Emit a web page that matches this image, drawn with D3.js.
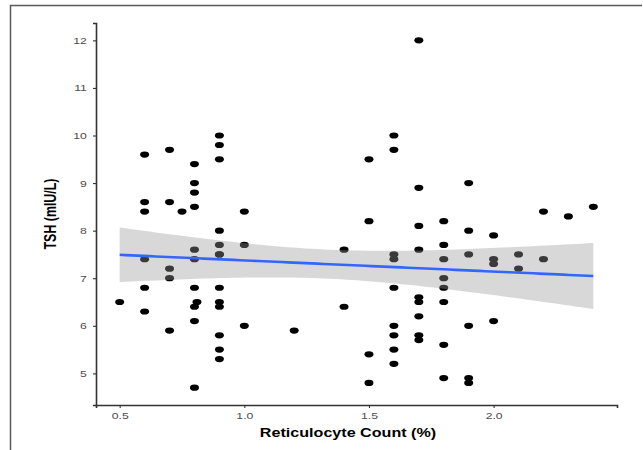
<!DOCTYPE html>
<html>
<head>
<meta charset="utf-8">
<script src="https://cdn.jsdelivr.net/npm/d3@7"></script>
<style>
  html, body { margin: 0; padding: 0; background: #fff; }
  svg { display: block; }
</style>
</head>
<body>
<svg id="chart" width="643" height="450"></svg>
<script>
// Reticulocyte count (%) and matching TSH (mIU/L), one entry per subject
const reticulocyte = [
  0.5,
  0.6, 0.6, 0.6, 0.6, 0.6, 0.6,
  0.7, 0.7, 0.7, 0.7, 0.7,
  0.75,
  0.8, 0.8, 0.8, 0.8, 0.8, 0.8, 0.8, 0.81, 0.8, 0.8, 0.8,
  0.9, 0.9, 0.9, 0.9, 0.9, 0.9, 0.9, 0.9, 0.9, 0.9, 0.9, 0.9, 0.9,
  1.0, 1.0, 1.0,
  1.2,
  1.4, 1.4,
  1.5, 1.5, 1.5, 1.5,
  1.6, 1.6, 1.6, 1.6, 1.6, 1.6, 1.6, 1.6, 1.6,
  1.7, 1.7, 1.7, 1.7, 1.7, 1.7, 1.7, 1.7, 1.7,
  1.8, 1.8, 1.8, 1.8, 1.8, 1.8, 1.8, 1.8,
  1.9, 1.9, 1.9, 1.9, 1.9, 1.9,
  2.0, 2.0, 2.0, 2.0,
  2.1, 2.1,
  2.2, 2.2,
  2.3,
  2.4
];
const tsh = [
  6.5,
  9.6, 8.6, 8.4, 7.4, 6.8, 6.3,
  9.7, 8.6, 7.2, 7.0, 5.9,
  8.4,
  9.4, 9.0, 8.8, 8.5, 7.6, 7.4, 6.8, 6.5, 6.4, 6.1, 4.7,
  10.0, 9.8, 9.5, 8.0, 7.7, 7.5, 7.5, 6.8, 6.5, 6.4, 5.8, 5.5, 5.3,
  8.4, 7.7, 6.0,
  5.9,
  7.6, 6.4,
  9.5, 8.2, 5.4, 4.8,
  10.0, 9.7, 7.5, 7.4, 6.8, 6.0, 5.8, 5.5, 5.2,
  12.0, 8.9, 8.1, 7.6, 6.6, 6.5, 6.2, 5.8, 5.7,
  8.2, 7.7, 7.4, 7.0, 6.8, 6.5, 5.6, 4.9,
  9.0, 8.0, 7.5, 6.0, 4.9, 4.8,
  7.9, 7.4, 7.3, 6.1,
  7.5, 7.2,
  8.4, 7.4,
  8.3,
  8.5
];
const xTicks = [0.5, 1.0, 1.5, 2.0];
const yTicks = [5, 6, 7, 8, 9, 10, 11, 12];
const xTitle = "Reticulocyte Count (%)";
const yTitle = "TSH (mIU/L)";

const points = reticulocyte.map((x, i) => ({ x, y: tsh[i] }));

const svg = d3.select("#chart");
const margin = { left: 96, right: 26, top: 23, bottom: 45 };
const W = 643, H = 450;
const FONT = "'Liberation Sans', Arial, sans-serif";
const STRETCH = 1.3; // the whole figure is drawn wider than tall

// Outer frame (top and left edges)
svg.append("path")
  .attr("d", `M10.5,450 L10.5,5.5 L642,5.5`)
  .attr("fill", "none")
  .attr("stroke", "#5a5a5a")
  .attr("stroke-width", 1.5);

// Scales with 5% padding around the data range
const xExt = d3.extent(reticulocyte), yExt = d3.extent(tsh);
const xPad = (xExt[1] - xExt[0]) * 0.05, yPad = (yExt[1] - yExt[0]) * 0.05;
const x = d3.scaleLinear().domain([xExt[0] - xPad, xExt[1] + xPad])
  .range([margin.left, W - margin.right]);
const y = d3.scaleLinear().domain([yExt[0] - yPad, yExt[1] + yPad])
  .range([H - margin.bottom, margin.top]);

// Points
svg.append("g").selectAll("ellipse").data(points).join("ellipse")
  .attr("cx", d => x(d.x))
  .attr("cy", d => y(d.y))
  .attr("rx", 4.5)
  .attr("ry", 3.1)
  .attr("fill", "#000");

// Linear fit with 95% confidence band
const n = points.length;
const mx = d3.mean(reticulocyte), my = d3.mean(tsh);
const sxx = d3.sum(reticulocyte, v => (v - mx) ** 2);
const sxy = d3.sum(points, d => (d.x - mx) * (d.y - my));
const slope = sxy / sxx, intercept = my - slope * mx;
const rss = d3.sum(points, d => (d.y - (intercept + slope * d.x)) ** 2);
const s = Math.sqrt(rss / (n - 2));
const df = n - 2, z = 1.959964;
const tq = z + (z ** 3 + z) / (4 * df) + (5 * z ** 5 + 16 * z ** 3 + 3 * z) / (96 * df * df);
const grid = d3.range(0, 80).map(i => xExt[0] + (xExt[1] - xExt[0]) * i / 79);
const fit = grid.map(gx => {
  const fy = intercept + slope * gx;
  const se = s * Math.sqrt(1 / n + (gx - mx) ** 2 / sxx);
  return { x: gx, y: fy, lo: fy - tq * se, hi: fy + tq * se };
});

svg.append("path").datum(fit)
  .attr("d", d3.area().x(d => x(d.x)).y0(d => y(d.lo)).y1(d => y(d.hi)))
  .attr("fill", "#999999")
  .attr("fill-opacity", 0.38);

svg.append("path").datum(fit)
  .attr("d", d3.line().x(d => x(d.x)).y(d => y(d.y)))
  .attr("fill", "none")
  .attr("stroke", "#3366FF")
  .attr("stroke-width", 2.6);

// Axes
const xAxis = svg.append("g")
  .attr("transform", `translate(0,${H - margin.bottom})`)
  .call(d3.axisBottom(x).tickValues(xTicks).tickFormat(d3.format(".1f")).tickSize(3).tickPadding(4));
const yAxis = svg.append("g")
  .attr("transform", `translate(${margin.left},0)`)
  .call(d3.axisLeft(y).tickValues(yTicks).tickFormat(d3.format("d")).tickSize(3).tickPadding(4));

[xAxis, yAxis].forEach(g => {
  g.select(".domain").attr("stroke", "#333").attr("stroke-width", 1.6);
  g.selectAll(".tick line").attr("stroke", "#333").attr("stroke-width", 1.1);
  g.selectAll(".tick text")
    .attr("fill", "#4d4d4d")
    .attr("transform", `scale(${STRETCH},1)`)
    .style("font-family", FONT)
    .style("font-size", "9.4px");
});

// Axis titles
svg.append("text")
  .attr("transform", `translate(348,437) scale(${STRETCH},1)`)
  .attr("text-anchor", "middle")
  .style("font-family", FONT)
  .style("font-size", "12.4px")
  .style("font-weight", "bold")
  .attr("fill", "#000")
  .text(xTitle);

svg.append("text")
  .attr("transform", `translate(56,${(y.range()[0] + y.range()[1]) / 2}) scale(${STRETCH},1) rotate(-90)`)
  .attr("text-anchor", "middle")
  .style("font-family", FONT)
  .style("font-size", "12.4px")
  .style("font-weight", "bold")
  .attr("fill", "#000")
  .text(yTitle);
</script>
</body>
</html>
